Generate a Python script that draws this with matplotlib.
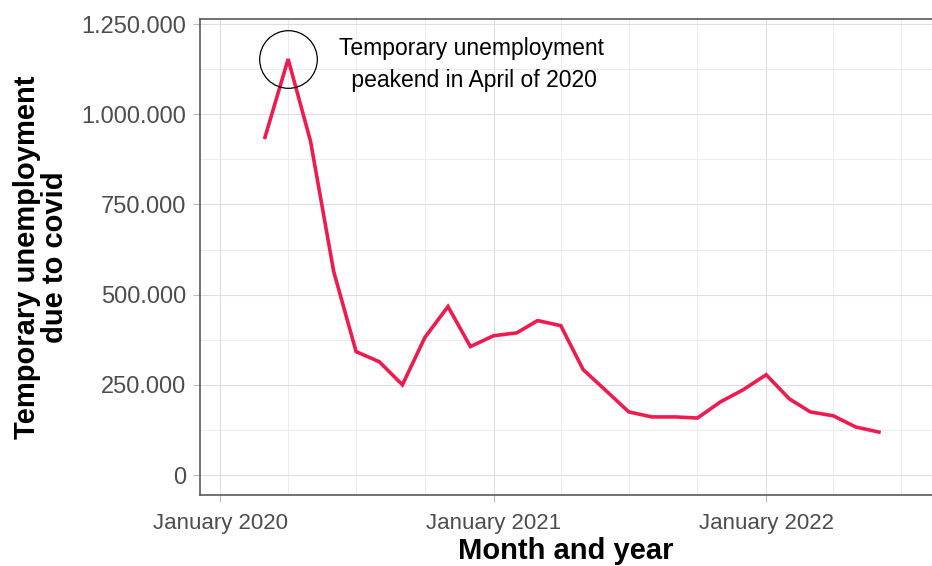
import datetime as dt

import matplotlib
matplotlib.use('Agg')
import matplotlib.pyplot as plt
import matplotlib.dates as mdates
from matplotlib.ticker import FuncFormatter, MultipleLocator

# monthly temporary unemployment due to covid, March 2020 - June 2022
months = ['2020-03', '2020-04', '2020-05', '2020-06', '2020-07', '2020-08', '2020-09',
          '2020-10', '2020-11', '2020-12', '2021-01', '2021-02', '2021-03', '2021-04',
          '2021-05', '2021-06', '2021-07', '2021-08', '2021-09', '2021-10', '2021-11',
          '2021-12', '2022-01', '2022-02', '2022-03', '2022-04', '2022-05', '2022-06']
unemployed = [936000, 1153000, 925000, 564000, 342000, 314000, 250000,
              381000, 467000, 356000, 386000, 394000, 428000, 414000,
              292000, 233000, 175000, 161000, 161000, 158000, 203000,
              236000, 278000, 211000, 175000, 164000, 133000, 119000]
peak_month = '2020-04'
note = 'Temporary unemployment\n peakend in April of 2020'

dates = [dt.datetime.strptime(m, '%Y-%m') for m in months]
peak_date = dt.datetime.strptime(peak_month, '%Y-%m')
peak_val = unemployed[months.index(peak_month)]

plt.rcParams['font.family'] = ['Liberation Sans', 'DejaVu Sans']

fig = plt.figure(figsize=(9.32, 5.66), dpi=100)
ax = fig.add_axes([200 / 932, 71 / 566, 732 / 932, 476 / 566])

ax.plot(dates, unemployed, color='#ee1b4f', lw=2.6, solid_joinstyle='miter', zorder=3)

# circle round the peak
ax.plot([peak_date], [peak_val], marker='o', ms=41.5, mfc='none', mec='black', mew=0.9, zorder=4)
ax.text(dt.datetime(2020, 12, 2), 1138000, note, ha='center', va='center',
        fontsize=16.5, linespacing=1.5, color='black')

ax.set_xlim(dt.datetime(2019, 12, 5), dt.datetime(2022, 8, 11))
ax.set_ylim(-55400, 1264000)

ax.xaxis.set_major_locator(mdates.YearLocator())
ax.xaxis.set_minor_locator(mdates.MonthLocator(bymonth=[4, 7, 10]))
ax.xaxis.set_major_formatter(mdates.DateFormatter('%B %Y'))
ax.yaxis.set_major_locator(MultipleLocator(250000))
ax.yaxis.set_minor_locator(MultipleLocator(125000))
ax.yaxis.set_major_formatter(FuncFormatter(lambda v, p: f'{int(v):,}'.replace(',', '.')))

ax.grid(which='major', color='#dedede', lw=0.8)
ax.grid(which='minor', color='#ececec', lw=0.7)
ax.set_axisbelow(True)

for side in ['top', 'left', 'bottom']:
    ax.spines[side].set_color('#5a5a5a')
    ax.spines[side].set_linewidth(1.2)
ax.spines['right'].set_visible(False)

ax.tick_params(which='major', color='#bbbbbb', length=5, width=0.8, labelcolor='#4d4d4d')
ax.tick_params(axis='x', which='major', labelsize=16, pad=8)
ax.tick_params(axis='y', which='major', labelsize=17, pad=5)
ax.tick_params(which='minor', length=0)

ax.set_xlabel('Month and year', fontsize=21, fontweight='bold', labelpad=2)
ax.set_ylabel('Temporary unemployment\ndue to covid', fontsize=21, fontweight='bold',
              labelpad=9, linespacing=1.0)

fig.savefig('out.png', dpi=100)
